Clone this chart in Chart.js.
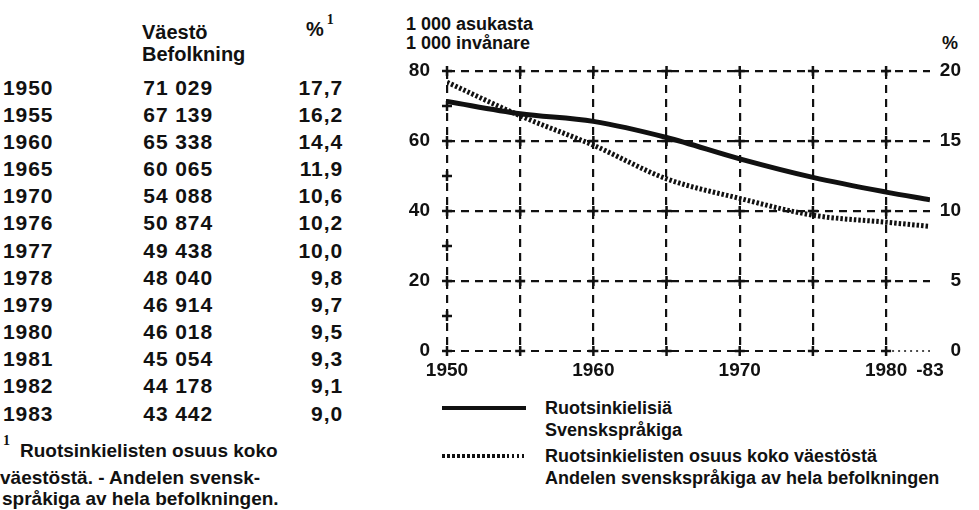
<!DOCTYPE html>
<html>
<head>
<meta charset="utf-8">
<script src="https://cdn.jsdelivr.net/npm/chart.js@4/dist/chart.umd.min.js"></script>
<style>
html,body{margin:0;padding:0;background:#fff;}
body{width:979px;height:510px;position:relative;overflow:hidden;font-family:"Liberation Sans",Arial,sans-serif;font-weight:bold;color:#111;}
.t{position:absolute;white-space:nowrap;line-height:1;}
#wrap{position:absolute;left:380px;top:0;width:599px;height:510px;}
sup{font-family:"Liberation Serif",serif;font-weight:bold;}
</style>
</head>
<body>
<div id="texts"></div>
<div id="wrap"><canvas id="c" width="599" height="510"></canvas></div>
<script>
// ---- data ----
// table
const tableYears = [1950, 1955, 1960, 1965, 1970, 1976, 1977, 1978, 1979, 1980, 1981, 1982, 1983];
const population = [71029, 67139, 65338, 60065, 54088, 50874, 49438, 48040, 46914, 46018, 45054, 44178, 43442];
const sharePct = [17.7, 16.2, 14.4, 11.9, 10.6, 10.2, 10.0, 9.8, 9.7, 9.5, 9.3, 9.1, 9.0];

// lines as drawn in the chart
const lineYears = [1950, 1955, 1960, 1965, 1970, 1975, 1980, 1983];
const popLineValues = [71.3, 67.8, 65.6, 61.0, 54.9, 49.6, 45.4, 43.2];   // 1 000 inhabitants (left axis)
const pctLineValues = [19.2, 16.8, 14.7, 12.3, 10.9, 9.7, 9.2, 8.9];     // % (right axis)

const xTickValues = [1950, 1955, 1960, 1965, 1970, 1975, 1980, 1983];
const xTickLabels = ['1950', '', '1960', '', '1970', '', '1980', '-83'];
const leftTicks = [0, 20, 40, 60, 80];
const leftMinorTicks = [10, 30, 50, 70];
const rightTicks = [0, 5, 10, 15, 20];

const headerPop = ['Väestö', 'Befolkning'];
const axisTitleLeft = ['1 000 asukasta', '1 000 invånare'];
const legendLabels = [['Ruotsinkielisiä', 'Svenskspråkiga'],
  ['Ruotsinkielisten osuus koko väestöstä', 'Andelen svenskspråkiga av hela befolkningen']];
const footnote = ['Ruotsinkielisten osuus koko', 'väestöstä. - Andelen svensk-', 'språkiga av hela befolkningen.'];

// ---- HTML text (table, titles, legend) ----
const box = document.getElementById('texts');
function txt(s, x, yc, fs, opts = {}) {
  const d = document.createElement('div');
  d.className = 't';
  d.innerHTML = s;
  d.style.fontSize = fs + 'px';
  d.style.top = (yc - 0.49 * fs) + 'px';
  if (opts.right) d.style.right = (979 - x) + 'px'; else d.style.left = x + 'px';
  if (opts.ls) d.style.letterSpacing = opts.ls + 'px';
  box.appendChild(d);
  return d;
}
const fmtPop = p => Math.floor(p / 1000) + ' ' + String(p % 1000).padStart(3, '0');
const fmtPct = v => v.toFixed(1).replace('.', ',');

txt(headerPop[0], 142, 32, 20);
txt(headerPop[1], 142, 54, 20);
txt('%<sup style="font-size:14px;position:relative;top:-4px;margin-left:3px">1</sup>', 306, 27, 20);
tableYears.forEach((yr, i) => {
  const yc = 87 + i * 27.15;
  txt(String(yr), 3, yc, 21, {ls: 0.9});
  txt(fmtPop(population[i]), 213, yc, 21, {right: true, ls: 0.9});
  txt(fmtPct(sharePct[i]), 343, yc, 21, {right: true, ls: 0.9});
});
txt('<sup style="font-size:14px;position:relative;top:-5px">1</sup>', 3, 448, 19);
txt(footnote[0], 20, 450, 19);
txt(footnote[1], 0, 477, 19);
txt(footnote[2], 2, 498, 19);

txt(axisTitleLeft[0], 406, 24, 18);
txt(axisTitleLeft[1], 406, 43, 18);
txt('%', 942, 43, 18);

// legend samples
const s1 = document.createElement('div');
s1.style.cssText = 'position:absolute;left:442px;top:406px;width:84px;height:4px;background:#111;';
box.appendChild(s1);
const s2 = document.createElement('div');
s2.style.cssText = 'position:absolute;left:442px;top:454px;width:84px;height:4px;background:repeating-linear-gradient(90deg,#111 0 2.5px,transparent 2.5px 5px);';
box.appendChild(s2);
txt(legendLabels[0][0], 545, 408, 18);
txt(legendLabels[0][1], 545, 430, 18);
txt(legendLabels[1][0], 545, 456, 18);
txt(legendLabels[1][1], 545, 478, 18);

// ---- chart ----
const INK = '#111';
const decor = {
  id: 'decor',
  beforeDatasetsDraw(chart) {
    const {ctx, scales: {x, y}} = chart;
    ctx.save();
    ctx.strokeStyle = INK;
    const y0 = y.getPixelForValue(0);
    ctx.lineWidth = 2.2;
    ctx.setLineDash([8, 6]);
    ctx.beginPath();
    ctx.moveTo(x.getPixelForValue(1950), y0);
    ctx.lineTo(x.getPixelForValue(1980), y0);
    ctx.stroke();
    ctx.lineWidth = 1.5;
    ctx.setLineDash([2, 4]);
    ctx.beginPath();
    ctx.moveTo(x.getPixelForValue(1980), y0);
    ctx.lineTo(x.getPixelForValue(1983), y0);
    ctx.stroke();
    ctx.setLineDash([]);
    ctx.lineWidth = 2.5;
    const cross = (px, py) => {
      ctx.beginPath();
      ctx.moveTo(px - 5, py); ctx.lineTo(px + 5, py);
      ctx.moveTo(px, py - 5); ctx.lineTo(px, py + 5);
      ctx.stroke();
    };
    xTickValues.filter(v => v <= 1980).forEach(xv => {
      leftTicks.forEach(yv => cross(x.getPixelForValue(xv), y.getPixelForValue(yv)));
    });
    leftMinorTicks.forEach(yv => cross(x.getPixelForValue(1950), y.getPixelForValue(yv)));
    ctx.restore();
  }
};

const tickFont = {family: '"Liberation Sans", Arial, sans-serif', size: 19, weight: 'bold'};

new Chart(document.getElementById('c'), {
  type: 'line',
  data: {
    datasets: [
      {
        label: legendLabels[0].join(' '),
        data: lineYears.map((yr, i) => ({x: yr, y: popLineValues[i]})),
        yAxisID: 'y',
        borderColor: INK,
        borderWidth: 5,
        pointRadius: 0,
        cubicInterpolationMode: 'monotone',
        fill: false
      },
      {
        label: legendLabels[1].join(' '),
        data: lineYears.map((yr, i) => ({x: yr, y: pctLineValues[i]})),
        yAxisID: 'y2',
        borderColor: INK,
        borderWidth: 5,
        borderDash: [2.5, 2],
        borderCapStyle: 'butt',
        pointRadius: 0,
        cubicInterpolationMode: 'monotone',
        fill: false
      }
    ]
  },
  options: {
    responsive: false,
    animation: false,
    devicePixelRatio: 1,
    layout: {padding: {left: 0, right: 18, top: 71, bottom: 119}},
    plugins: {legend: {display: false}, tooltip: {enabled: false}},
    scales: {
      x: {
        type: 'linear',
        min: 1950,
        max: 1983,
        afterBuildTicks: s => { s.ticks = xTickValues.map(v => ({value: v})); },
        afterFit: s => { s.height = 40; },
        ticks: {
          autoSkip: false, maxRotation: 0, padding: 8, color: INK, font: tickFont,
          callback: v => xTickLabels[xTickValues.indexOf(v)]
        },
        grid: {
          drawTicks: false,
          lineWidth: 2.2,
          color: c => (c.tick && c.tick.value === 1983) ? 'rgba(0,0,0,0)' : INK
        },
        border: {display: false, dash: [8, 6]}
      },
      y: {
        position: 'left',
        min: 0,
        max: 80,
        afterBuildTicks: s => { s.ticks = leftTicks.map(v => ({value: v})); },
        afterFit: s => { s.width = 67; },
        ticks: {padding: 17, color: INK, font: tickFont},
        grid: {
          drawTicks: false,
          lineWidth: 2.2,
          color: c => (c.tick && c.tick.value === 0) ? 'rgba(0,0,0,0)' : INK
        },
        border: {display: false, dash: [8, 6]}
      },
      y2: {
        position: 'right',
        min: 0,
        max: 20,
        afterBuildTicks: s => { s.ticks = rightTicks.map(v => ({value: v})); },
        afterFit: s => { s.width = 31; },
        ticks: {padding: 10, color: INK, font: tickFont, crossAlign: 'far'},
        grid: {display: false, drawTicks: false},
        border: {display: false}
      }
    }
  },
  plugins: [decor]
});
</script>
</body>
</html>
